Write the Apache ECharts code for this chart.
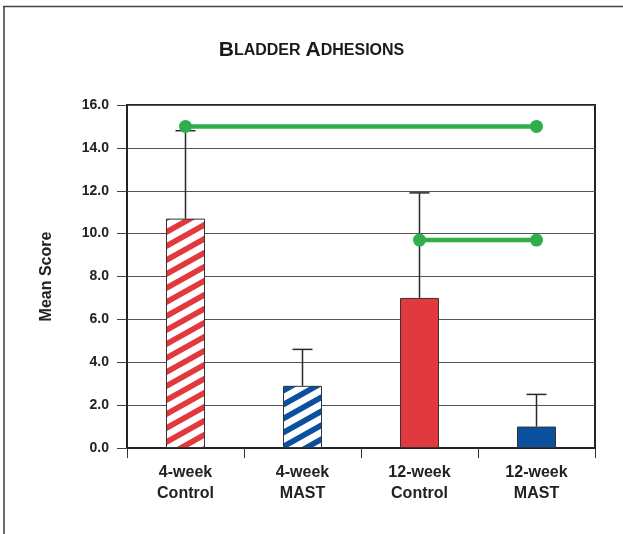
<!DOCTYPE html>
<html>
<head>
<meta charset="utf-8">
<script src="https://cdn.jsdelivr.net/npm/echarts@6/dist/echarts.min.js"></script>
<style>
  html, body { margin: 0; padding: 0; background: #fff; }
  #chart { width: 623px; height: 534px; }
</style>
</head>
<body>
<div id="chart"></div>
<script>
// Groups and their mean adhesion scores with the upper error limits
const categories = ['4-week\nControl', '4-week\nMAST', '12-week\nControl', '12-week\nMAST'];
const meanScores = [10.7, 2.9, 7.0, 1.0];
const errorTops = [14.8, 4.6, 11.9, 2.5];
// Significance brackets (value per category, null where the bracket is absent)
const bracketLong = [15.0, null, null, 15.0];
const bracketShort = [null, null, 9.7, 9.7];
const yTicks = { min: 0, max: 16, interval: 2 };

const RED = '#E2393F';
const BLUE = '#0B509E';
const GREEN = '#2EAF4B';

// Diagonal stripe fill used for the 4-week groups
function stripes(color) {
  const w = 25, h = 14, t = 6.5;
  const c = document.createElement('canvas');
  c.width = w; c.height = h;
  const ctx = c.getContext('2d');
  ctx.fillStyle = '#fff';
  ctx.fillRect(0, 0, w, h);
  ctx.fillStyle = color;
  for (let k = -1; k <= 2; k++) {
    const y0 = k * h;
    ctx.beginPath();
    ctx.moveTo(0, y0);
    ctx.lineTo(w, y0 - h);
    ctx.lineTo(w, y0 - h + t);
    ctx.lineTo(0, y0 + t);
    ctx.closePath();
    ctx.fill();
  }
  return { image: c, repeat: 'repeat' };
}

const fills = [stripes(RED), stripes(BLUE), RED, BLUE];

const chart = echarts.init(document.getElementById('chart'), null, { renderer: 'canvas' });

chart.setOption({
  animation: false,
  backgroundColor: '#fff',
  title: {
    text: '{big|B}{small|LADDER} {big|A}{small|DHESIONS}',
    left: 'center',
    top: 35,
    textStyle: {
      rich: {
        big: { fontFamily: 'Liberation Sans', fontWeight: 'bold', fontSize: 21, color: '#1a1a1a' },
        small: { fontFamily: 'Liberation Sans', fontWeight: 'bold', fontSize: 16, color: '#1a1a1a' }
      }
    }
  },
  graphic: [
    { type: 'line', shape: { x1: 4, y1: 6, x2: 4, y2: 534 }, style: { stroke: '#6a6a6a', lineWidth: 2 } },
    { type: 'line', shape: { x1: 3, y1: 6.5, x2: 623, y2: 6.5 }, style: { stroke: '#444', lineWidth: 1.5 } }
  ],
  grid: {
    left: 127, right: 28, top: 105, bottom: 86,
    show: true, borderColor: '#222', borderWidth: 2
  },
  xAxis: {
    type: 'category',
    data: categories,
    axisLine: { lineStyle: { color: '#222', width: 2 } },
    axisTick: { show: true, length: 10, lineStyle: { color: '#333', width: 1 } },
    axisLabel: {
      margin: 14,
      fontFamily: 'Liberation Sans', fontWeight: 'bold', fontSize: 16,
      color: '#222', lineHeight: 21
    }
  },
  yAxis: {
    type: 'value',
    min: yTicks.min, max: yTicks.max, interval: yTicks.interval,
    name: 'Mean Score',
    nameLocation: 'middle',
    nameGap: 72,
    nameTextStyle: { fontFamily: 'Liberation Sans', fontWeight: 'bold', fontSize: 16, color: '#222' },
    axisLine: { show: true, lineStyle: { color: '#222', width: 2 } },
    axisTick: { show: true, length: 10, lineStyle: { color: '#444', width: 1 } },
    axisLabel: {
      margin: 18,
      fontFamily: 'Liberation Sans', fontWeight: 'bold', fontSize: 14, color: '#222',
      formatter: v => v.toFixed(1)
    },
    splitLine: { lineStyle: { color: '#555', width: 1.2 } }
  },
  series: [
    {
      type: 'bar',
      data: meanScores.map((v, i) => ({ value: v, itemStyle: { color: fills[i] } })),
      barWidth: 39,
      itemStyle: { borderColor: '#333', borderWidth: 1 },
      z: 2
    },
    {
      type: 'custom',
      data: meanScores.map((v, i) => [i, v, errorTops[i]]),
      z: 3,
      renderItem: function (params, api) {
        const base = api.coord([api.value(0), api.value(1)]);
        const top = api.coord([api.value(0), api.value(2)]);
        const half = 10;
        const style = { stroke: '#2a2a2a', lineWidth: 1.5 };
        return {
          type: 'group',
          children: [
            { type: 'line', shape: { x1: base[0], y1: base[1], x2: top[0], y2: top[1] }, style },
            { type: 'line', shape: { x1: top[0] - half, y1: top[1], x2: top[0] + half, y2: top[1] }, style }
          ]
        };
      }
    },
    {
      type: 'line',
      data: bracketLong,
      connectNulls: true,
      symbol: 'circle',
      symbolSize: 13,
      lineStyle: { color: GREEN, width: 4.5 },
      itemStyle: { color: GREEN },
      z: 4
    },
    {
      type: 'line',
      data: bracketShort,
      connectNulls: true,
      symbol: 'circle',
      symbolSize: 13,
      lineStyle: { color: GREEN, width: 4.5 },
      itemStyle: { color: GREEN },
      z: 4
    }
  ]
});
</script>
</body>
</html>
